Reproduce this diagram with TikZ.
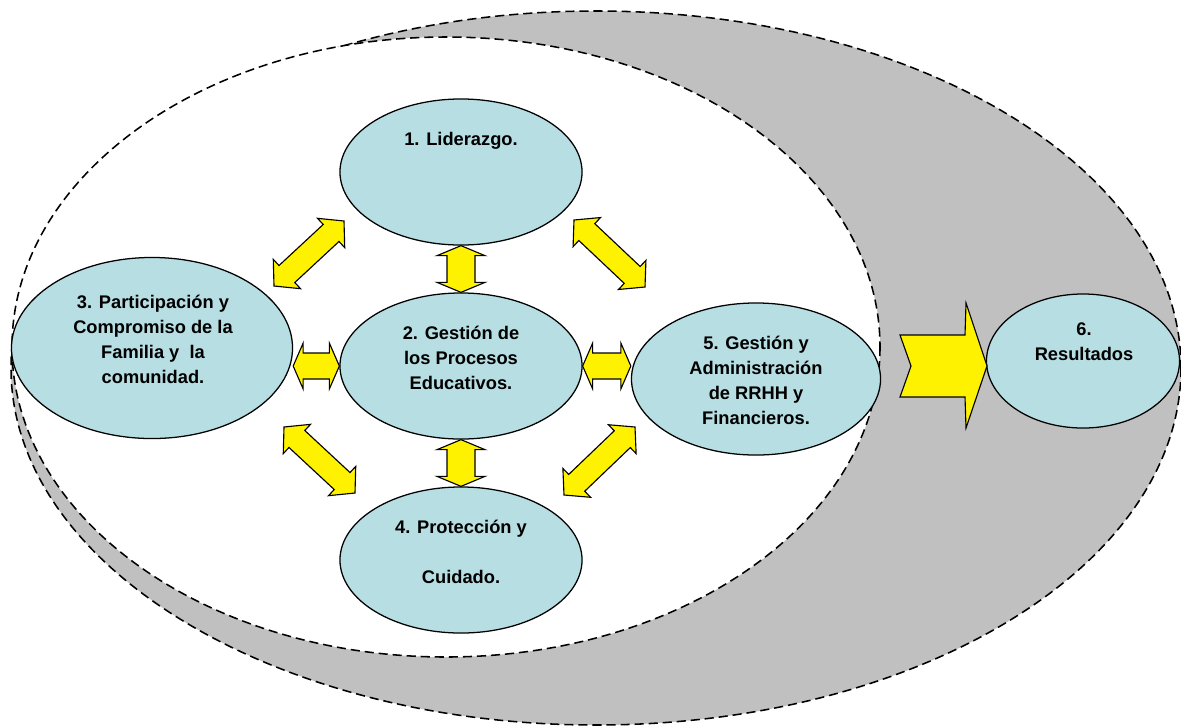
\documentclass[tikz,border=0pt]{standalone}
\usepackage{fontspec}
\setmainfont{Liberation Sans}
\usetikzlibrary{calc}
\usetikzlibrary{shapes.geometric}
\definecolor{blobfill}{RGB}{183,222,226}
\definecolor{ringgray}{RGB}{192,192,192}
\tikzset{
  blob/.style={ellipse, draw, line width=0.9pt, fill=blobfill, inner sep=0pt},
  lbl/.style={align=center, inner sep=0pt, font=\fontsize{13}{17.8}\selectfont\bfseries},
  ring/.style={draw, dash pattern=on 6.5pt off 3.5pt, line width=1.1pt},
  twoarrow/.style={draw, line width=0.8pt, fill=yellow, line join=miter},
}
% two-headed block arrow: from, to, half head width, half shaft width, head length
\newcommand{\twoway}[5]{%
  \draw[twoarrow] (#1)
    -- ($(#1)!#5!(#2)!#3!90:(#2)$)
    -- ($(#1)!#5!(#2)!#4!90:(#2)$)
    -- ($(#2)!#5!(#1)!#4!-90:(#1)$)
    -- ($(#2)!#5!(#1)!#3!-90:(#1)$)
    -- (#2)
    -- ($(#2)!#5!(#1)!#3!90:(#1)$)
    -- ($(#2)!#5!(#1)!#4!90:(#1)$)
    -- ($(#1)!#5!(#2)!#4!-90:(#2)$)
    -- ($(#1)!#5!(#2)!#3!-90:(#2)$)
    -- cycle;}
\begin{document}
\begin{tikzpicture}[x=0.025cm,y=-0.025cm]
\useasboundingbox (0,0) rectangle (1181,726);

% Drawing outer ring
\draw[ring, fill=ringgray] (596,368) ellipse (585 and 357);
% Drawing inner field
\draw[ring, fill=white] (446,347) ellipse (434 and 310);

% Ellipse 1
\node[blob, minimum width=6.05cm, minimum height=3.65cm] (lid) at (461,172) {};
\node[lbl] (lidt) at (461,141) {1. Liderazgo.};

% Ellipse 2
\node[blob, minimum width=6.05cm, minimum height=3.65cm] (ges) at (461,366) {};
\node[lbl] (gest) at (461,358) {2. Gestión de\\los Procesos\\Educativos.};

% Ellipse 3
\node[blob, minimum width=7.025cm, minimum height=4.525cm] (fam) at (152,348) {};
\node[lbl] (famt) at (153,339) {3. Participación y\\Compromiso de la\\Familia y~ la\\comunidad.};

% Ellipse 4
\node[blob, minimum width=6.05cm, minimum height=3.65cm] (pro) at (461,560) {};
\node[lbl] (prot) at (461,552) {4. Protección y\\[0.625cm]Cuidado.};

% Ellipse 5
\node[blob, minimum width=6.225cm, minimum height=3.8cm] (adm) at (756,379) {};
\node[lbl] (admt) at (756,380) {5. Gestión y\\Administración\\de RRHH y\\Financieros.};

% Ellipse 6
\node[blob, minimum width=4.825cm, minimum height=3.35cm] (res) at (1083,361) {};
\node[lbl] (rest) at (1084,342) {6.\\Resultados};

% Arrow ends
\coordinate (ula) at (274,286);
\coordinate (ulb) at (344,221);
\coordinate (ura) at (574,220);
\coordinate (urb) at (645,287);
\coordinate (lla) at (284,427);
\coordinate (llb) at (355,493);
\coordinate (lra) at (635,427);
\coordinate (lrb) at (564,495);

% Straight arrows
\twoway{lid.south}{ges.north}{0.6cm}{0.35cm}{0.25cm}
\twoway{ges.south}{pro.north}{0.6cm}{0.35cm}{0.25cm}
\twoway{fam.east |- ges.west}{ges.west}{0.575cm}{0.325cm}{0.25cm}
\twoway{ges.east}{adm.west |- ges.east}{0.575cm}{0.325cm}{0.25cm}

% Slanted arrows
\twoway{ula}{ulb}{0.5cm}{0.29cm}{0.44cm}
\twoway{ura}{urb}{0.5cm}{0.29cm}{0.44cm}
\twoway{lla}{llb}{0.5cm}{0.29cm}{0.44cm}
\twoway{lra}{lrb}{0.5cm}{0.29cm}{0.44cm}

% Big arrow to results
\draw[twoarrow] (900,335) -- (965,335) -- (966,303) -- (987,366) -- (966,428)
  -- (965,397) -- (900,397) -- (911,366) -- cycle;
\end{tikzpicture}
\end{document}
